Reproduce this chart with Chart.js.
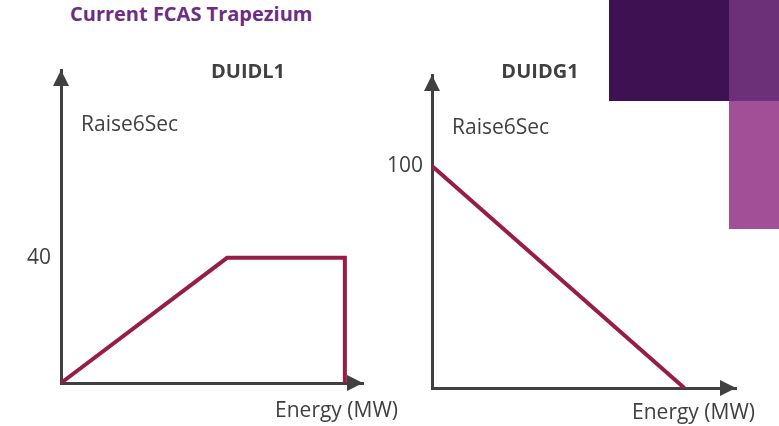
<!DOCTYPE html>
<html>
<head>
<meta charset="utf-8">
<script src="https://cdn.jsdelivr.net/npm/chart.js@4.4.1/dist/chart.umd.min.js"></script>
<style>
  body { margin: 0; background: #fff; }
  #page { position: relative; width: 779px; height: 426px; overflow: hidden; font-family: 'Open Sans', sans-serif; }
  #heading { position: absolute; left: 70px; top: 0px; font-size: 20px; font-weight: bold; color: #6e2c82; white-space: nowrap; line-height: 28px; }
  .block { position: absolute; }
  canvas { position: absolute; top: 0; }
</style>
</head>
<body>
<div id="page">
  <div class="block" style="left:609px;top:0;width:120px;height:101px;background:#3e1152"></div>
  <div class="block" style="left:729px;top:0;width:50px;height:101px;background:#6b3078"></div>
  <div class="block" style="left:729px;top:101px;width:50px;height:128px;background:#a24f98"></div>
  <div id="heading">Current FCAS Trapezium</div>
  <canvas id="chartL1" width="410" height="426" style="left:0"></canvas>
  <canvas id="chartG1" width="409" height="426" style="left:370px"></canvas>
</div>
<script>
// DUIDL1 trapezium (Raise6Sec vs Energy)
const l1Energy = [0, 55, 94, 94];
const l1Raise = [0, 40, 40, 0];
const l1Ticks = [40];

// DUIDG1 trapezium
const g1Energy = [0, 83];
const g1Raise = [100, 0];
const g1Ticks = [100];

var lineColor = '#981d45';
var axisColor = '#404040';
var fontName = "'Open Sans', sans-serif";

// draws axis arrow heads and the labels around each little chart
const sketchPlugin = {
  id: 'sketch',
  afterDraw(chart, args, opts) {
    const ctx = chart.ctx;
    const a = chart.chartArea;
    ctx.save();
    ctx.fillStyle = axisColor;
    // up arrow
    ctx.beginPath();
    ctx.moveTo(a.left, a.top);
    ctx.lineTo(a.left + 8, a.top + 16);
    ctx.lineTo(a.left - 8, a.top + 16);
    ctx.closePath();
    ctx.fill();
    // right arrow
    ctx.beginPath();
    ctx.moveTo(a.right, a.bottom);
    ctx.lineTo(a.right - 16, a.bottom - 8);
    ctx.lineTo(a.right - 16, a.bottom + 8);
    ctx.closePath();
    ctx.fill();

    ctx.textBaseline = 'middle';
    ctx.font = 'bold 20px ' + fontName;
    ctx.textAlign = 'center';
    ctx.fillText(opts.name, a.left + opts.nameX, a.top + opts.nameY);

    ctx.font = '21px ' + fontName;
    ctx.textAlign = 'left';
    ctx.fillText(opts.yTitle, a.left + 20, a.top + opts.yTitleY);

    ctx.textAlign = 'right';
    ctx.fillText(opts.xTitle, a.right + opts.xTitleX, a.bottom + opts.xTitleY);
    ctx.restore();
  }
};

function makeChart(id, energy, raise, ticks, yMax, pad, extra) {
  const ctx = document.getElementById(id);
  return new Chart(ctx, {
    type: 'scatter',
    data: {
      datasets: [{
        data: energy.map((e, i) => ({x: e, y: raise[i]})),
        showLine: true,
        borderColor: lineColor,
        borderWidth: 4,
        pointRadius: 0,
        tension: 0,
        clip: false
      }]
    },
    options: {
      responsive: false,
      animation: false,
      devicePixelRatio: 1,
      layout: { padding: pad },
      plugins: {
        legend: { display: false },
        tooltip: { enabled: false },
        sketch: extra
      },
      scales: {
        x: {
          min: 0,
          max: 100,
          grid: { display: false, drawTicks: false },
          border: { color: axisColor, width: 3 },
          ticks: { display: false },
          afterFit: (s) => { s.height = 0; }
        },
        y: {
          min: 0,
          max: yMax,
          grid: { display: false, drawTicks: false },
          border: { color: axisColor, width: 3 },
          ticks: {
            color: axisColor,
            padding: extra.tickPad,
            font: { family: fontName, size: 21 }
          },
          afterBuildTicks: (s) => { s.ticks = ticks.map(v => ({value: v})); },
          afterFit: (s) => { s.width = extra.axisWidth; }
        }
      }
    },
    plugins: [sketchPlugin]
  });
}

const chartL1 = makeChart('chartL1', l1Energy, l1Raise, l1Ticks, 100,
  { left: 0, top: 70, right: 47, bottom: 43 },
  { name: 'DUIDL1', nameX: 187, nameY: 2, yTitle: 'Raise6Sec', yTitleY: 55,
    xTitle: 'Energy (MW)', xTitleX: 35, xTitleY: 28, tickPad: 10, axisWidth: 61 });

const chartG1 = makeChart('chartG1', g1Energy, g1Raise, g1Ticks, 141,
  { left: 0, top: 75, right: 43, bottom: 38 },
  { name: 'DUIDG1', nameX: 108, nameY: -3, yTitle: 'Raise6Sec', yTitleY: 53,
    xTitle: 'Energy (MW)', xTitleX: 19, xTitleY: 25, tickPad: 9, axisWidth: 62 });
</script>
</body>
</html>
